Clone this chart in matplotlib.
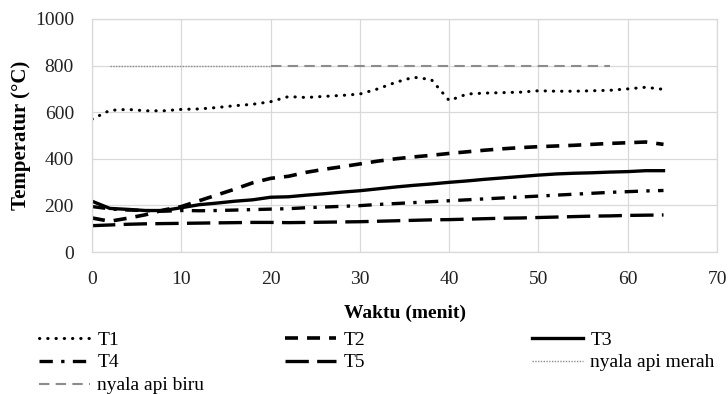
import matplotlib
matplotlib.use("Agg")
import matplotlib.pyplot as plt

# ---- data ----
waktu = [0, 2, 4, 6, 8, 10, 12, 14, 16, 18, 20, 22, 24, 26, 28, 30, 32,
         34, 36, 38, 40, 42, 44, 46, 48, 50, 52, 54, 56, 58, 60, 62, 64]
T1 = [570, 608, 612, 606, 606, 612, 614, 620, 628, 634, 645, 667, 663, 668, 672, 678, 700,
      728, 750, 740, 650, 678, 682, 684, 686, 692, 690, 690, 692, 694, 700, 707, 698]
T2 = [146, 132, 145, 160, 180, 195, 220, 245, 270, 297, 316, 325, 342, 355, 366, 378, 390,
      400, 408, 415, 423, 430, 437, 443, 448, 452, 455, 458, 462, 466, 469, 472, 462]
T3 = [218, 187, 183, 178, 178, 190, 203, 210, 218, 224, 235, 237, 244, 250, 257, 263, 271,
      279, 286, 292, 299, 305, 312, 318, 324, 330, 335, 338, 340, 343, 345, 349, 349]
T4 = [195, 185, 180, 178, 175, 178, 177, 178, 180, 182, 184, 186, 190, 193, 196, 199, 204,
      208, 212, 216, 220, 224, 228, 232, 236, 240, 244, 248, 252, 256, 259, 262, 264]
T5 = [113, 116, 119, 121, 122, 123, 124, 125, 126, 127, 127, 126, 127, 128, 129, 130, 132,
      134, 136, 138, 139, 141, 143, 145, 146, 148, 150, 152, 154, 155, 157, 158, 159]
merah_x = [2, 20]
merah_y = [800, 800]
biru_x = [20, 58]
biru_y = [800, 800]

x_ticks = [0, 10, 20, 30, 40, 50, 60, 70]
y_ticks = [0, 200, 400, 600, 800, 1000]

plt.rcParams['font.family'] = ['Liberation Serif', 'DejaVu Serif']

fig = plt.figure(figsize=(7.28, 3.94), dpi=100)
ax = fig.add_axes([0.1264, 0.3604, 0.8586, 0.5914])

l1, = ax.plot(waktu, T1, color='black', lw=2.2, linestyle=(0, (0.1, 2.6)),
              dash_capstyle='round', solid_capstyle='round', label='T1')
l2, = ax.plot(waktu, T2, color='black', lw=2.6, linestyle=(0, (3.6, 2.5)), label='T2')
l3, = ax.plot(waktu, T3, color='black', lw=2.4, linestyle='-', label='T3')
l4, = ax.plot(waktu, T4, color='black', lw=2.4, linestyle=(0, (4, 2.5, 1, 2.5)), label='T4')
l5, = ax.plot(waktu, T5, color='black', lw=2.4, linestyle=(0, (7, 2.5)), label='T5')
l6, = ax.plot(merah_x, merah_y, color='#8c8c8c', lw=1.0, linestyle=(0, (1, 1)),
              label='nyala api merah')
l7, = ax.plot(biru_x, biru_y, color='#8c8c8c', lw=1.5, linestyle=(0, (5, 3)),
              label='nyala api biru')

ax.set_xlim(0, 70)
ax.set_ylim(0, 1000)
ax.set_xticks(x_ticks)
ax.set_yticks(y_ticks)
ax.grid(True, color='#d9d9d9', lw=0.9)
ax.set_axisbelow(True)
for s in ax.spines.values():
    s.set_color('#d9d9d9')
    s.set_linewidth(0.9)
ax.tick_params(axis='y', length=0, labelsize=14, colors='#222222', pad=13)
ax.tick_params(axis='x', length=0, labelsize=14, colors='#222222', pad=14)

ax.set_xlabel('Waktu (menit)', fontsize=14, fontweight='bold', labelpad=12)
ax.set_ylabel('Temperatur (°C)', fontsize=15, fontweight='bold')
ax.yaxis.set_label_coords(-0.0976, 0.5)

cols = [([l1, l4, l7], 39), ([l2, l5], 285), ([l3, l6], 532)]
W, H = 728, 394
for handles, xpix in cols:
    fig.legend(handles=handles, loc='upper left',
               bbox_to_anchor=(xpix / W, 1 - 331 / H),
               frameon=False, fontsize=14, handlelength=2.6,
               handletextpad=0.4, labelspacing=0.27, borderpad=0,
               borderaxespad=0)

fig.savefig('out.png', dpi=100)
